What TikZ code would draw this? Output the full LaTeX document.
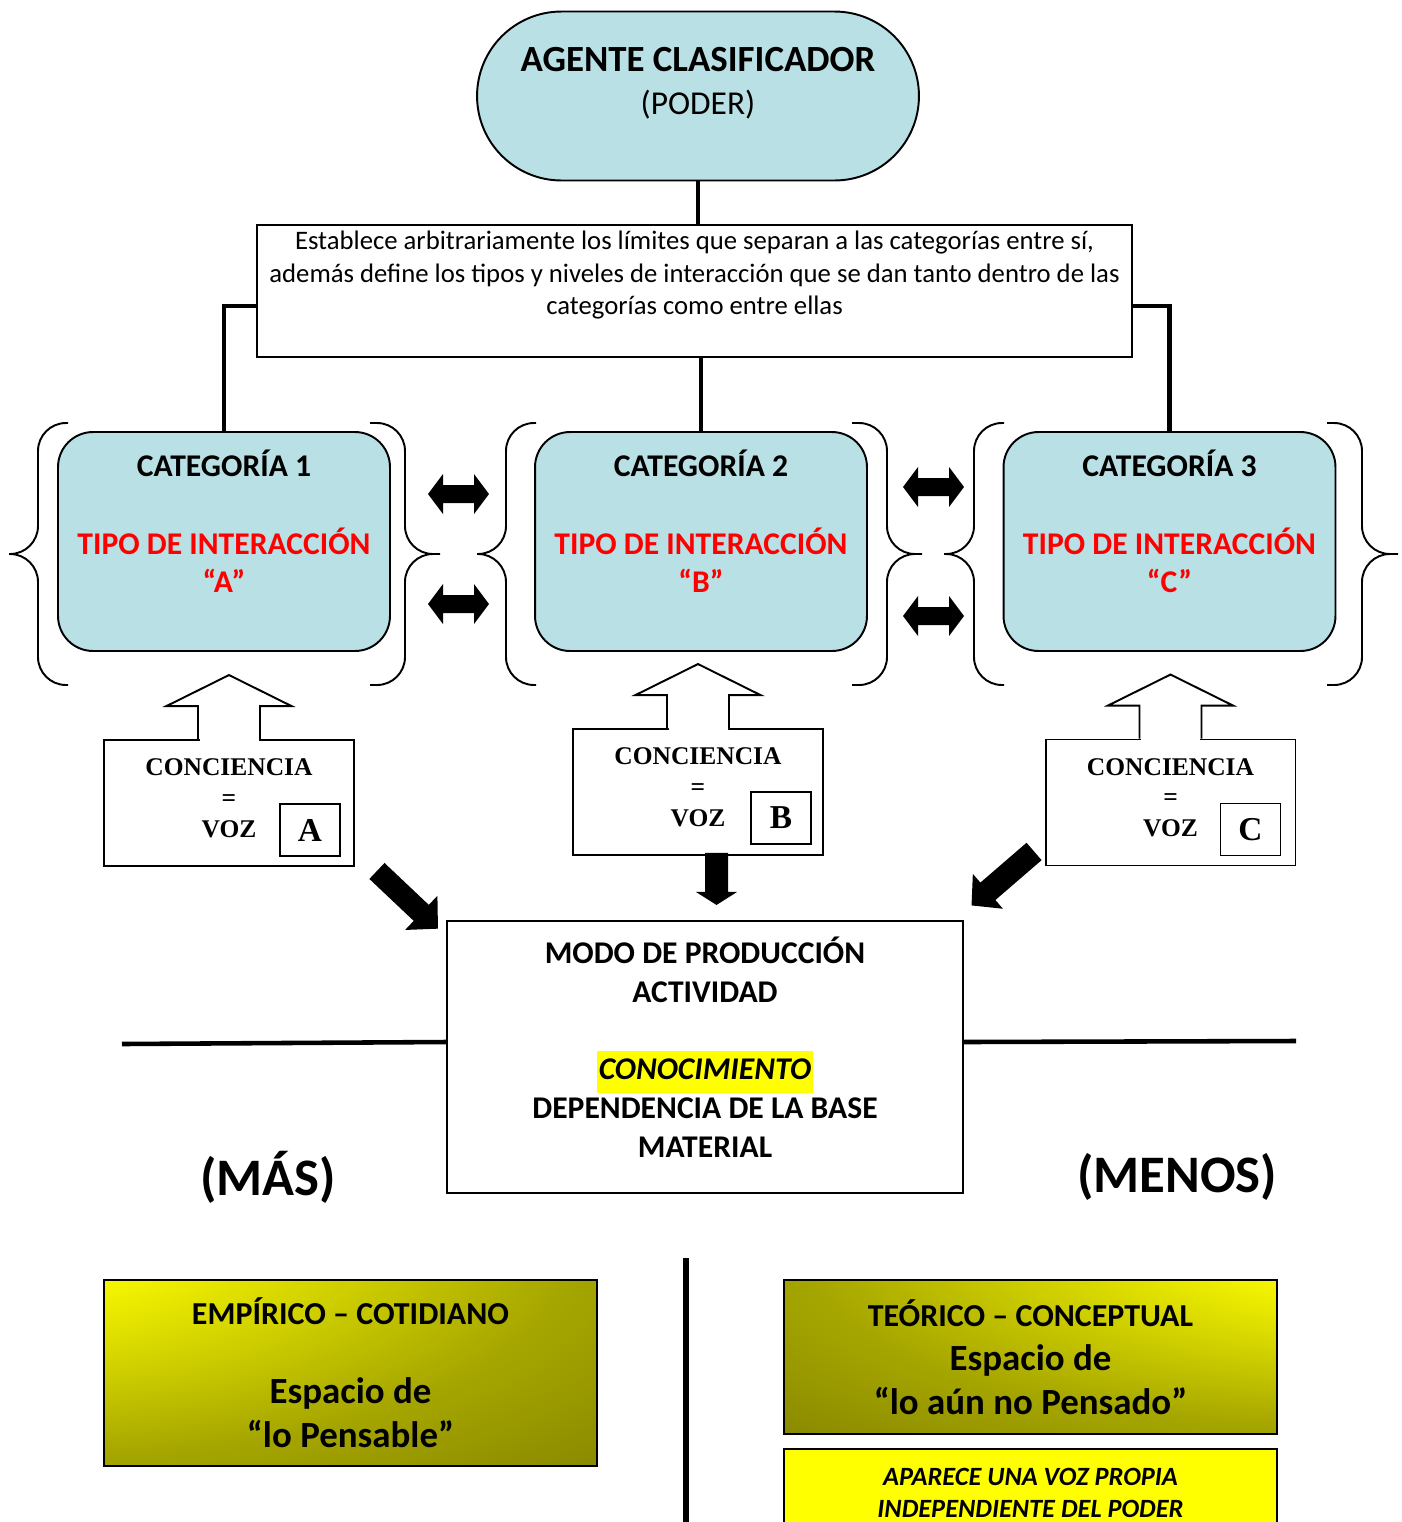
\documentclass[tikz,border=0pt]{standalone}
\usepackage{fontspec}
\setmainfont{Carlito}
\newfontfamily\vozfont{Liberation Serif}
\usepackage{tikz}
\usetikzlibrary{positioning}
\usetikzlibrary{calc}
\usetikzlibrary{shapes.misc}
\definecolor{CatBlue}{RGB}{185,224,228}
\definecolor{TipoRed}{RGB}{255,0,0}
\definecolor{Yel}{RGB}{255,255,0}
\definecolor{Olive}{RGB}{128,128,0}
\definecolor{OliveDark}{RGB}{112,112,6}
\pgfdeclareradialshading{empsh}{\pgfpoint{-50bp}{50bp}}{color(0bp)=(Yel); color(25bp)=(Yel!92!Olive); color(55bp)=(Olive!70!Yel); color(80bp)=(Olive); color(160bp)=(OliveDark)}
\pgfdeclareradialshading{teosh}{\pgfpoint{50bp}{50bp}}{color(0bp)=(Yel); color(25bp)=(Yel!92!Olive); color(55bp)=(Olive!70!Yel); color(80bp)=(Olive); color(160bp)=(OliveDark)}
\setlength{\fboxsep}{1pt}

\begin{document}
\begin{tikzpicture}[x=0.02cm, y=-0.02cm]
    \tikzset{ ag/.style={rounded rectangle, draw=black, fill=CatBlue, line width=1.1pt, minimum width=8.84cm, minimum height=3.38cm, inner sep=0pt} }
    \tikzset{ agtxt/.style={align=center, inner sep=0pt, font=\fontsize{21}{24.5}\selectfont} }
    \tikzset{ dsc/.style={draw=black, fill=white, line width=1.1pt, minimum width=17.5cm, minimum height=2.64cm} }
    \tikzset{ dsctxt/.style={align=center, inner sep=0pt, font=\fontsize{15.2}{18.5}\selectfont} }
    \tikzset{ cat/.style={draw=black, fill=CatBlue, rounded corners=0.7cm, line width=1.1pt, minimum width=6.64cm, minimum height=4.38cm} }
    \tikzset{ cattxt/.style={align=center, inner sep=0pt, font=\bfseries\fontsize{18}{22}\selectfont} }
    \tikzset{ voz/.style={draw=black, fill=white, line width=1.1pt, minimum width=5cm, minimum height=2.52cm, align=center, font=\vozfont\bfseries\fontsize{14.5}{17.6}\selectfont} }
    \tikzset{ ltr/.style={draw=black, line width=1.1pt, minimum width=1.2cm, minimum height=1.04cm, inner sep=0pt, anchor=south east, font=\vozfont\bfseries\fontsize{19}{22}\selectfont} }
    \tikzset{ prd/.style={draw=black, fill=white, line width=1.1pt, minimum width=10.32cm, minimum height=5.44cm} }
    \tikzset{ prdtxt/.style={align=center, inner sep=0pt, font=\bfseries\fontsize{18}{22}\selectfont} }
    \tikzset{ esp/.style={draw=black, line width=1.1pt, minimum width=9.86cm, align=center, shade, font=\bfseries\fontsize{21}{25}\selectfont} }
    \tikzset{ apa/.style={draw=black, fill=Yel, line width=1.1pt, minimum width=9.86cm, minimum height=1.76cm, align=center, font=\bfseries\itshape\fontsize{15}{18}\selectfont} }
    \tikzset{ mas/.style={inner sep=0pt, font=\bfseries\fontsize{30}{36}\selectfont} }
    \tikzset{ con/.style={draw=black, line width=2.6pt} }
    \tikzset{ brc/.style={draw=black, line width=1.1pt, rounded corners=0.56cm} }
    \tikzset{ hol/.style={draw=black, fill=white, line width=1.1pt, line join=miter} }
    \tikzset{ blk/.style={fill=black} }

    \useasboundingbox (0,0) rectangle (1402,1522);
    \clip (0,0) rectangle (1402,1522);

    % poder
    \node[ag] (ag) at (698,96) {};
    \node[agtxt, below=0.72cm of ag.north] (agt) {\textbf{AGENTE CLASIFICADOR}\\{\fontsize{19}{24.5}\selectfont (PODER)}};

    \node[dsc] (dsc) at (694.5,291) {};
    \node[dsctxt, below=0.14cm of dsc.north] (dsct) {Establece arbitrariamente los límites que separan a las categorías entre sí,\\además define los tipos y niveles de interacción que se dan tanto dentro de las\\categorías como entre ellas};

    % categorias
    \node[cat] (cat1) at (224,541.5)  {};
    \node[cat] (cat2) at (701,541.5)  {};
    \node[cat] (cat3) at (1169.5,541.5) {};
    \node[cattxt, below=0.38cm of cat1.north] (cat1t) {CATEGORÍA 1\\[22pt]\textcolor{TipoRed}{TIPO DE INTERACCIÓN}\\\textcolor{TipoRed}{“A”}};
    \node[cattxt, below=0.38cm of cat2.north] (cat2t) {CATEGORÍA 2\\[22pt]\textcolor{TipoRed}{TIPO DE INTERACCIÓN}\\\textcolor{TipoRed}{“B”}};
    \node[cattxt, below=0.38cm of cat3.north] (cat3t) {CATEGORÍA 3\\[22pt]\textcolor{TipoRed}{TIPO DE INTERACCIÓN}\\\textcolor{TipoRed}{“C”}};

    \draw[con] (ag.south) -- (ag.south |- dsc.north);
    \draw[con] ([yshift=-0.3cm]dsc.west) -| (cat1.north);
    \draw[con] ([yshift=-0.3cm]dsc.east) -| (cat3.north);
    \draw[con] (cat2.north |- dsc.south) -- (cat2.north);

    % llaves
    \draw[brc] (68,423) -- (38,423) -- (38,554) -- (9,554) (68,685) -- (38,685) -- (38,554) -- (9,554);
    \draw[brc] (370,423) -- (405,423) -- (405,554) -- (440,554) (370,685) -- (405,685) -- (405,554) -- (440,554);
    \draw[brc] (536,423) -- (506,423) -- (506,554) -- (477,554) (536,685) -- (506,685) -- (506,554) -- (477,554);
    \draw[brc] (852,423) -- (887,423) -- (887,554) -- (922,554) (852,685) -- (887,685) -- (887,554) -- (922,554);
    \draw[brc] (1004,423) -- (974,423) -- (974,554) -- (944,554) (1004,685) -- (974,685) -- (974,554) -- (944,554);
    \draw[brc] (1327,423) -- (1362,423) -- (1362,554) -- (1398,554) (1327,685) -- (1362,685) -- (1362,554) -- (1398,554);

    % flechas dobles
    \fill[blk, shift={(428,494)}] (0,0) -- (15,-20) -- (15,-9) -- (46,-9) -- (46,-20) -- (61,0) -- (46,20) -- (46,9) -- (15,9) -- (15,20) -- cycle;
    \fill[blk, shift={(428,604)}] (0,0) -- (15,-20) -- (15,-9) -- (46,-9) -- (46,-20) -- (61,0) -- (46,20) -- (46,9) -- (15,9) -- (15,20) -- cycle;
    \fill[blk, shift={(903,487)}] (0,0) -- (15,-20) -- (15,-9) -- (46,-9) -- (46,-20) -- (61,0) -- (46,20) -- (46,9) -- (15,9) -- (15,20) -- cycle;
    \fill[blk, shift={(903,616)}] (0,0) -- (15,-20) -- (15,-9) -- (46,-9) -- (46,-20) -- (61,0) -- (46,20) -- (46,9) -- (15,9) -- (15,20) -- cycle;

    % conciencia = voz
    \node[voz] (cA) at (229,803)    {CONCIENCIA\\=\\VOZ\rule[-0.2cm]{0pt}{0pt}};
    \node[voz] (cB) at (698,792)    {CONCIENCIA\\=\\VOZ\rule[-0.2cm]{0pt}{0pt}};
    \node[voz] (cC) at (1170.5,802.5) {CONCIENCIA\\=\\VOZ\rule[-0.2cm]{0pt}{0pt}};

    \fill[white] ($(cA.north)+(-29.5,3)$) rectangle ($(cA.north)+(29.5,-3)$);
    \fill[white] ($(cB.north)+(-29.5,3)$) rectangle ($(cB.north)+(29.5,-3)$);
    \fill[white] ($(cC.north)+(-29.5,3)$) rectangle ($(cC.north)+(29.5,-3)$);
    \draw[hol] ($(cA.north)+(-31,0)$) -- ++(0,-33) -- ++(-31.5,0) -- ($(cA.north)+(0,-64)$) -- ($(cA.north)+(62.5,-33)$) -- ++(-31.5,0) -- ++(0,33);
    \draw[hol] ($(cB.north)+(-31,0)$) -- ++(0,-33) -- ++(-31.5,0) -- ($(cB.north)+(0,-64)$) -- ($(cB.north)+(62.5,-33)$) -- ++(-31.5,0) -- ++(0,33);
    \draw[hol] ($(cC.north)+(-31,0)$) -- ++(0,-33) -- ++(-31.5,0) -- ($(cC.north)+(0,-64)$) -- ($(cC.north)+(62.5,-33)$) -- ++(-31.5,0) -- ++(0,33);

    \node[ltr] (lA) at ([shift={(-14,-10)}]cA.south east) {A};
    \node[ltr] (lB) at ([shift={(-12,-11)}]cB.south east) {B};
    \node[ltr] (lC) at ([shift={(-15,-10)}]cC.south east) {C};

    % modo de produccion
    \node[prd] (prd) at (705,1057) {};
    \node[prdtxt, below=0.34cm of prd.north] (prdt) {MODO DE PRODUCCIÓN\\ACTIVIDAD\\[22pt]\colorbox{Yel}{\strut\textit{CONOCIMIENTO}}\\DEPENDENCIA DE LA BASE\\MATERIAL};

    \fill[blk, shift={($(cA.south east)+(22,4)$)}, rotate=-43.4] (0,-11) -- (61,-11) -- (61,-23.5) -- (84,0) -- (61,23.5) -- (61,11) -- (0,11) -- cycle;
    \fill[blk, shift={($(cB.south)+(18.5,-3)$)}, rotate=-90] (0,-11.5) -- (39,-11.5) -- (39,-20.5) -- (52,0) -- (39,20.5) -- (39,11.5) -- (0,11.5) -- cycle;
    \fill[blk, shift={($(cC.south west)+(-10.5,-15)$)}, rotate=-139.2] (0,-11.5) -- (61,-11.5) -- (61,-23) -- (82.6,0) -- (61,23) -- (61,11.5) -- (0,11.5) -- cycle;

    \coordinate (lnL) at (122,1044);
    \coordinate (lnR) at (1296,1041);
    \draw[con] (lnL) -- ([yshift=0.3cm]prd.west);
    \draw[con] ([yshift=0.3cm]prd.east) -- (lnR);

    \node[mas] (mas)   at (268,1177)  {(MÁS)};
    \node[mas] (menos) at (1177,1177) {(MENOS)};

    % espacios
    \coordinate (dvT) at (686,1258);
    \coordinate (dvB) at (686,1530);
    \draw[line width=3.4pt] (dvT) -- (dvB);

    \node[esp, shading=empsh, minimum height=3.72cm] (emp) at (350.5,1373) {{\fontsize{18.2}{22}\selectfont EMPÍRICO – COTIDIANO}\\[20pt]Espacio de\\“lo Pensable”};
    \node[esp, shading=teosh, minimum height=3.08cm] (teo) at (1030.5,1357) {{\fontsize{18.2}{22}\selectfont TEÓRICO – CONCEPTUAL}\\Espacio de\\“lo aún no Pensado”};
    \node[apa] (apa) at (1030.5,1493) {APARECE UNA VOZ PROPIA\\INDEPENDIENTE DEL PODER};
\end{tikzpicture}
\end{document}
